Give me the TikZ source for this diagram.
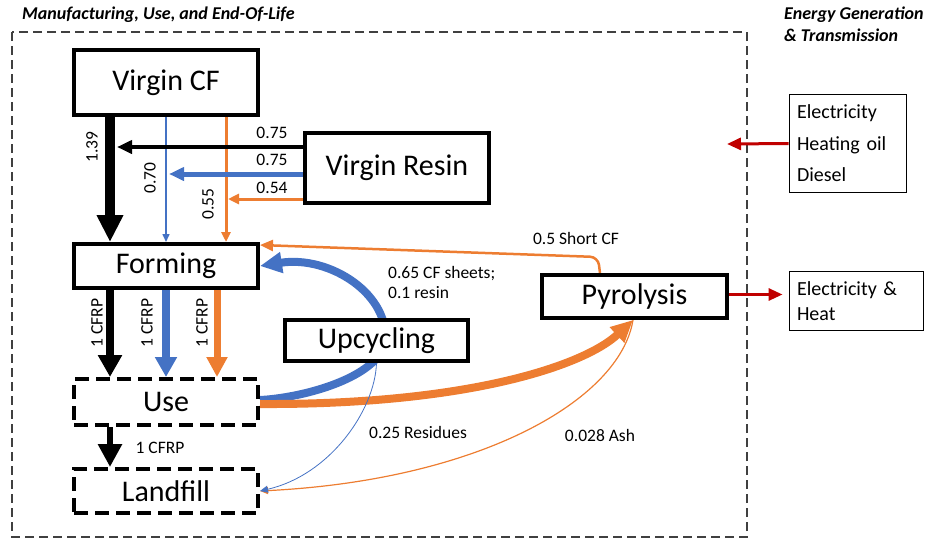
\documentclass[tikz,border=0pt]{standalone}
\usepackage{fontspec}
\setmainfont{Carlito}
\usetikzlibrary{arrows.meta, positioning, backgrounds, calc}
\definecolor{flowblue}{RGB}{68,114,196}
\definecolor{floworange}{RGB}{237,125,49}
\definecolor{energyred}{RGB}{192,0,0}

\begin{document}
\begin{tikzpicture}[
    x=1pt, y=-1pt,
    box/.style={draw, fill=white, line width=4pt, minimum width=184pt, minimum height=44pt, align=center, font=\fontsize{30pt}{35pt}\selectfont},
    dbox/.style={box, dash pattern=on 14pt off 7pt},
    ebox/.style={draw, line width=0.9pt, align=left, inner sep=8pt, font=\fontsize{20pt}{31.5pt}\selectfont},
    lbl/.style={inner sep=0pt, font=\fontsize{17.5pt}{20pt}\selectfont},
    zone/.style={inner sep=0pt, align=left, font=\fontsize{18pt}{22pt}\selectfont\bfseries\itshape},
    flowhead/.style 2 args={-{Triangle[length=#1, width=#2]}}
]
\useasboundingbox (0,0) rectangle (926,539);

% process boxes
\node[box, minimum height=65pt] (virgincf) at (166,82.5) {Virgin CF};
\node[box, below=125pt of virgincf] (forming) {Forming};
\node[dbox, minimum height=46pt, below=87pt of forming] (use) {Use};
\node[dbox, below=40pt of use] (landfill) {Landfill};
\node[box, minimum height=70pt] (virginresin) at (397,168) {Virgin Resin};
\node[box, minimum width=183pt, minimum height=41pt] (upcycling) at (376.5,340.5) {Upcycling};
\node[box, minimum width=185pt, minimum height=43pt] (pyrolysis) at (634.5,296.5) {Pyrolysis};

% energy side
\node[ebox, text width=101pt, minimum height=98pt] (energyin) at (847.5,143.5) {Electricity\\Heating oil\\Diesel};
\node[ebox, text width=118pt, minimum height=59pt, inner ysep=5pt, font=\fontsize{20pt}{25pt}\selectfont] (heatout) at (856,301) {Electricity \&\\Heat};

\node[zone, anchor=west] (mfgtitle) at (22,15) {Manufacturing, Use, and End-Of-Life};
\node[zone, anchor=north west] (energytitle) at (784,7) {Energy Generation\\\& Transmission};

\coordinate (kjoin) at (117,147);
\coordinate (bjoin) at (169,174);
\coordinate (ojoin) at (228,199);
\coordinate (fuelin) at (727,144);

\begin{scope}[on background layer]
\draw[line width=1.1pt, black!75, dash pattern=on 9pt off 5pt] (12,32) rectangle (747,537);

% inputs to forming
\draw[line width=10pt, flowhead={27pt}{25pt}] ([xshift=-56pt]virgincf.south) -- ([xshift=-56pt]forming.north);
\draw[flowblue, line width=1.5pt, flowhead={8pt}{7pt}] (virgincf.south) -- (forming.north);
\draw[floworange, line width=3pt, flowhead={10pt}{9pt}] ([xshift=60pt]virgincf.south) -- ([xshift=60pt]forming.north);
\draw[line width=4pt, flowhead={15pt}{13pt}] ([yshift=21pt]virginresin.west) -- (kjoin);
\draw[flowblue, line width=5pt, flowhead={15pt}{13pt}] ([yshift=-6pt]virginresin.west) -- (bjoin);
\draw[floworange, line width=3pt, flowhead={11pt}{10pt}] ([yshift=-31pt]virginresin.west) -- (ojoin);

% forming to use to landfill
\draw[line width=8pt, flowhead={22pt}{23pt}] ([xshift=-56pt]forming.south) -- ([xshift=-56pt]use.north);
\draw[flowblue, line width=8pt, flowhead={20pt}{21pt}] (forming.south) -- (use.north);
\draw[floworange, line width=7pt, flowhead={20pt}{20pt}] ([xshift=51pt]forming.south) -- ([xshift=51pt]use.north);
\draw[line width=6pt, flowhead={23pt}{23pt}] ([xshift=-56pt]use.south) -- ([xshift=-56pt]landfill.north);

% end-of-life loops
\draw[floworange, line width=2.5pt, rounded corners=8pt, flowhead={13pt}{11pt}] ([xshift=-34.5pt]pyrolysis.north) -- ++(-2,-16) -- ([yshift=21pt]forming.east);
\draw[flowblue, line width=8pt, flowhead={22pt}{20pt}] ([yshift=2pt]use.east) .. controls (300,398) and (372,380) .. (385,345) .. controls (392,295) and (330,255) .. (forming.east);
\draw[floworange, line width=8pt, flowhead={22pt}{20pt}] ([yshift=-2pt]use.east) .. controls (470,405) and (585,365) .. ([xshift=-1.5pt]pyrolysis.south);
\draw[floworange, line width=1.2pt, flowhead={8pt}{7pt}] ([xshift=-1.5pt]pyrolysis.south) .. controls (620,400) and (480,480) .. (landfill.east);
\draw[flowblue, line width=0.8pt, flowhead={8pt}{7pt}] (upcycling.south) .. controls (375,410) and (330,475) .. (landfill.east);

% energy
\draw[energyred, line width=3pt, flowhead={14pt}{12pt}] (energyin.west) -- (fuelin);
\draw[energyred, line width=3pt, flowhead={14pt}{12pt}, shorten >=6pt] ([yshift=2pt]pyrolysis.east) -- ([yshift=2pt]pyrolysis.east -| heatout.west);
\end{scope}

% flow labels
\node[lbl, rotate=90] (l139) at (92,147) {1.39};
\node[lbl, rotate=90] (l070) at (150,178) {0.70};
\node[lbl, rotate=90] (l055) at (208,204) {0.55};
\node[lbl] (lrk) at (272,133) {0.75};
\node[lbl] (lrb) at (272,160) {0.75};
\node[lbl] (lro) at (272,188) {0.54};
\node[lbl, rotate=90] (lfk) at (97,323) {1 CFRP};
\node[lbl, rotate=90] (lfb) at (147,323) {1 CFRP};
\node[lbl, rotate=90] (lfo) at (202,323) {1 CFRP};
\node[lbl] (lul) at (160,448) {1 CFRP};
\node[lbl] (lshort) at (576,238) {0.5 Short CF};
\node[lbl, anchor=west, align=left] (lsheets) at (388,282) {0.65 CF sheets;\\0.1 resin};
\node[lbl] (lresid) at (418,432) {0.25 Residues};
\node[lbl] (lash) at (600,435) {0.028 Ash};
\end{tikzpicture}
\end{document}
